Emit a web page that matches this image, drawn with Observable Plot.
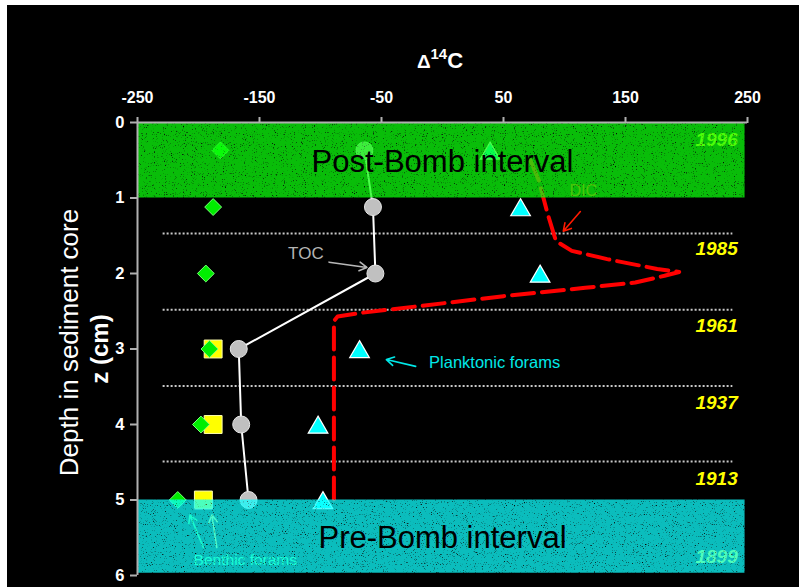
<!DOCTYPE html>
<html>
<head>
<meta charset="utf-8">
<script src="https://cdn.jsdelivr.net/npm/d3@7"></script>
<script src="https://cdn.jsdelivr.net/npm/@observablehq/plot@0.6"></script>
<style>
  html, body { margin: 0; padding: 0; background: white; overflow: hidden; }
</style>
</head>
<body>
<div id="chart"></div>
<script>
// ---- data ----
const xTicks = [-250, -150, -50, 50, 150, 250];
const yTicks = [0, 1, 2, 3, 4, 5, 6];

const sampleDepths = [0.37, 1.12, 2.0, 3.0, 4.0, 5.0];
const tocValues = [-64, -57, -55, -167, -165, -159];
const planktonicValues = [39, 64, 80, -68, -102, -98];
const benthicDiamondValues = [-182, -188, -194, -191, -198, -217];
const benthicSquareDepths = [3.0, 4.0, 5.0];
const benthicSquareValues = [-188, -188, -196];

const dicDepths = [0.5, 0.77, 1.2, 1.57, 1.70, 1.81, 1.94, 1.98, 2.03, 2.12, 2.19, 2.30, 2.43, 2.52, 2.57, 2.63, 5.0];
const dicValues = [72, 79, 86, 93, 106, 135, 176, 194, 182, 158, 117, 50, -18, -66, -86, -89, -89];

const guideDepths = [1.47, 2.48, 3.49, 4.49];
const years = ["1996", "1985", "1961", "1937", "1913", "1899"];
const yearDepths = [0.23, 1.67, 2.69, 3.72, 4.72, 5.75];

const bandNames = ["Post-Bomb interval", "Pre-Bomb interval"];
const bandTop = [0, 5];
const bandBottom = [1, 5.97];
const bandLabelDepths = [0.53, 5.5];

// annotations: label, x, depth ; arrows: x1, y1, x2, y2
const annoLabels = ["TOC", "Planktonic forams", "DIC", "Benthic forams"];
const annoX = [-112, -11, 104, -204];
const annoDepth = [1.735, 3.18, 0.91, 5.8];
const arrowX1 = [-93, -22, 113, -196, -185];
const arrowY1 = [1.85, 3.23, 1.18, 5.63, 5.63];
const arrowX2 = [-62, -46, 99, -207, -189];
const arrowY2 = [1.92, 3.14, 1.44, 5.2, 5.2];
const arrowColors = ["#b8b8b8", "#00e8e8", "#ff1a00", "#33ee44", "#eeee44"];

// ---- tables ----
const toc = sampleDepths.map((z, i) => ({z, v: tocValues[i]}));
const plank = sampleDepths.map((z, i) => ({z, v: planktonicValues[i]}));
const diam = sampleDepths.map((z, i) => ({z, v: benthicDiamondValues[i]}));
const squares = benthicSquareDepths.map((z, i) => ({z, v: benthicSquareValues[i]}));
const dic = dicDepths.map((z, i) => ({z, v: dicValues[i]}));
const yearRows = years.map((t, i) => ({t, z: yearDepths[i]}));
const bandRows = bandNames.map((t, i) => ({t, z1: bandTop[i], z2: bandBottom[i], zl: bandLabelDepths[i]}));
const arrows = arrowX1.map((x1, i) => ({x1, y1: arrowY1[i], x2: arrowX2[i], y2: arrowY2[i], c: arrowColors[i]}));
const annos = annoLabels.map((t, i) => ({t, x: annoX[i], z: annoDepth[i]}));

const font = "'Liberation Sans', Arial, Helvetica, sans-serif";

const plot = Plot.plot({
  width: 799,
  height: 587,
  marginTop: 122,
  marginRight: 52,
  marginBottom: 12,
  marginLeft: 137,
  style: {background: "white", color: "white", fontFamily: font},
  x: {domain: [-250, 250]},
  y: {domain: [0, 6], reverse: true},
  marks: [
    // dotted guide lines
    Plot.ruleY(guideDepths, {x1: -229, x2: 238, stroke: "#c8c8c8", strokeWidth: 2, strokeDasharray: "2,2"}),
    // year labels
    Plot.text(yearRows, {x: 242, y: "z", text: "t", textAnchor: "end", fill: "#ffff00", fontSize: 19, fontWeight: "bold", fontStyle: "italic"}),
    // annotation labels
    Plot.text(annos.slice(0, 1), {x: "x", y: "z", text: "t", fill: "#b4b4b4", fontSize: 17, textAnchor: "middle"}),
    Plot.text(annos.slice(1, 2), {x: "x", y: "z", text: "t", fill: "#00e8e8", fontSize: 16.5, textAnchor: "start"}),
    Plot.text(annos.slice(2, 3), {x: "x", y: "z", text: "t", fill: "#ff2a00", fontSize: 16, textAnchor: "start"}),
    Plot.text(annos.slice(3, 4), {x: "x", y: "z", text: "t", fill: "#33ff66", fontSize: 15.5, textAnchor: "start"}),
    Plot.arrow(arrows, {x1: "x1", y1: "y1", x2: "x2", y2: "y2", stroke: "c", strokeWidth: 1.6, headLength: 8}),
    // DIC
    Plot.line(dic, {x: "v", y: "z", stroke: "#ff0000", strokeWidth: 4, strokeDasharray: "22,8"}),
    // TOC
    Plot.line(toc, {x: "v", y: "z", stroke: "white", strokeWidth: 2}),
    Plot.dot(squares, {x: "v", y: "z", symbol: "square", r: 10.1, fill: "#ffff00", stroke: "#ffffb0", strokeWidth: 1}),
    Plot.dot(diam, {x: "v", y: "z", symbol: "diamond2", r: 7.6, fill: "#00ee00", stroke: "#77ff77", strokeWidth: 1}),
    Plot.dot(toc, {x: "v", y: "z", r: 8.5, fill: "#c0c0c0", stroke: "#e6e6e6", strokeWidth: 1}),
    Plot.dot(plank, {x: "v", y: "z", symbol: "triangle", r: 7.3, dy: 3, fill: "#00ffff", stroke: "white", strokeWidth: 1.2}),
    // bands (textured, semi-transparent, on top of data)
    Plot.rect(bandRows.slice(0, 1), {x1: -250, x2: 248, y1: "z1", y2: "z2", fill: "#00c000", opacity: 0.74}),
    Plot.rect(bandRows.slice(1, 2), {x1: -250, x2: 248, y1: "z1", y2: "z2", fill: "#00c0c0", opacity: 0.74}),
    Plot.text(bandRows, {x: 0, y: "zl", text: "t", fill: "black", fontSize: 31}),
    // axis lines
    Plot.ruleY([0], {x1: -250, x2: 250, stroke: "#b0b0b0", strokeWidth: 2}),
    Plot.ruleX([-250], {y1: 0, y2: 6, stroke: "#b0b0b0", strokeWidth: 2}),
    Plot.axisX({anchor: "top", ticks: xTicks, tickSize: 6, tickPadding: 14, tickFormat: d => String(d),
      fontSize: 16, fontWeight: "bold", stroke: "#b0b0b0", fill: "white", strokeWidth: 2, label: null}),
    Plot.axisY({anchor: "left", ticks: yTicks, tickSize: 7, tickPadding: 6, tickFormat: d => String(d),
      fontSize: 16.5, fontWeight: "bold", stroke: "#b0b0b0", fill: "white", strokeWidth: 2, label: null}),
    // y axis titles
    Plot.text(["Depth in sediment core"], {frameAnchor: "left", dx: -60, dy: -6.5, rotate: -90, lineAnchor: "bottom",
      fill: "white", fontSize: 26, textAnchor: "middle"}),
    Plot.text(["z (cm)"], {frameAnchor: "left", dx: -30, dy: 0, rotate: -90, lineAnchor: "bottom",
      fill: "white", fontSize: 24, fontWeight: "bold", textAnchor: "middle"})
  ]
});

const svg = d3.select(plot);
svg.insert("rect", ":first-child")
  .attr("x", 7).attr("y", 5).attr("width", 792).attr("height", 582).attr("fill", "black");

const defs = svg.append("defs");
function makeTexture(id, seed, matrix) {
  const f = defs.append("filter").attr("id", id)
    .attr("x", 0).attr("y", 0).attr("width", 1).attr("height", 1)
    .attr("color-interpolation-filters", "sRGB");
  f.append("feTurbulence").attr("type", "fractalNoise").attr("baseFrequency", 0.9)
    .attr("numOctaves", 2).attr("seed", seed).attr("result", "n");
  f.append("feColorMatrix").attr("in", "n").attr("type", "matrix").attr("values", matrix).attr("result", "c");
  f.append("feComposite").attr("in", "c").attr("in2", "SourceGraphic").attr("operator", "in");
}
makeTexture("texG", 3, "0 0 0 0 0.05  4 0 0 0 -0.5  0 0 0 0 0.05  0 0 0 0 1");
makeTexture("texT", 7, "0 0 0 0 0.06  4 0 0 0 -0.5  4 0 0 0 -0.5  0 0 0 0 1");
const bandGroups = svg.selectAll("g[aria-label='rect']").nodes();
if (bandGroups[0]) d3.select(bandGroups[0]).selectAll("rect").attr("filter", "url(#texG)");
if (bandGroups[1]) d3.select(bandGroups[1]).selectAll("rect").attr("filter", "url(#texT)");

// top title with superscript
const title = svg.append("text")
  .attr("x", 440).attr("y", 67.5)
  .attr("text-anchor", "middle")
  .attr("fill", "white")
  .attr("font-weight", "bold");
title.append("tspan").attr("font-size", 19).text("Δ");
title.append("tspan").attr("font-size", 15).attr("dy", -9).text("14");
title.append("tspan").attr("font-size", 22).attr("dy", 9).text("C");

document.getElementById("chart").appendChild(plot);
</script>
</body>
</html>
